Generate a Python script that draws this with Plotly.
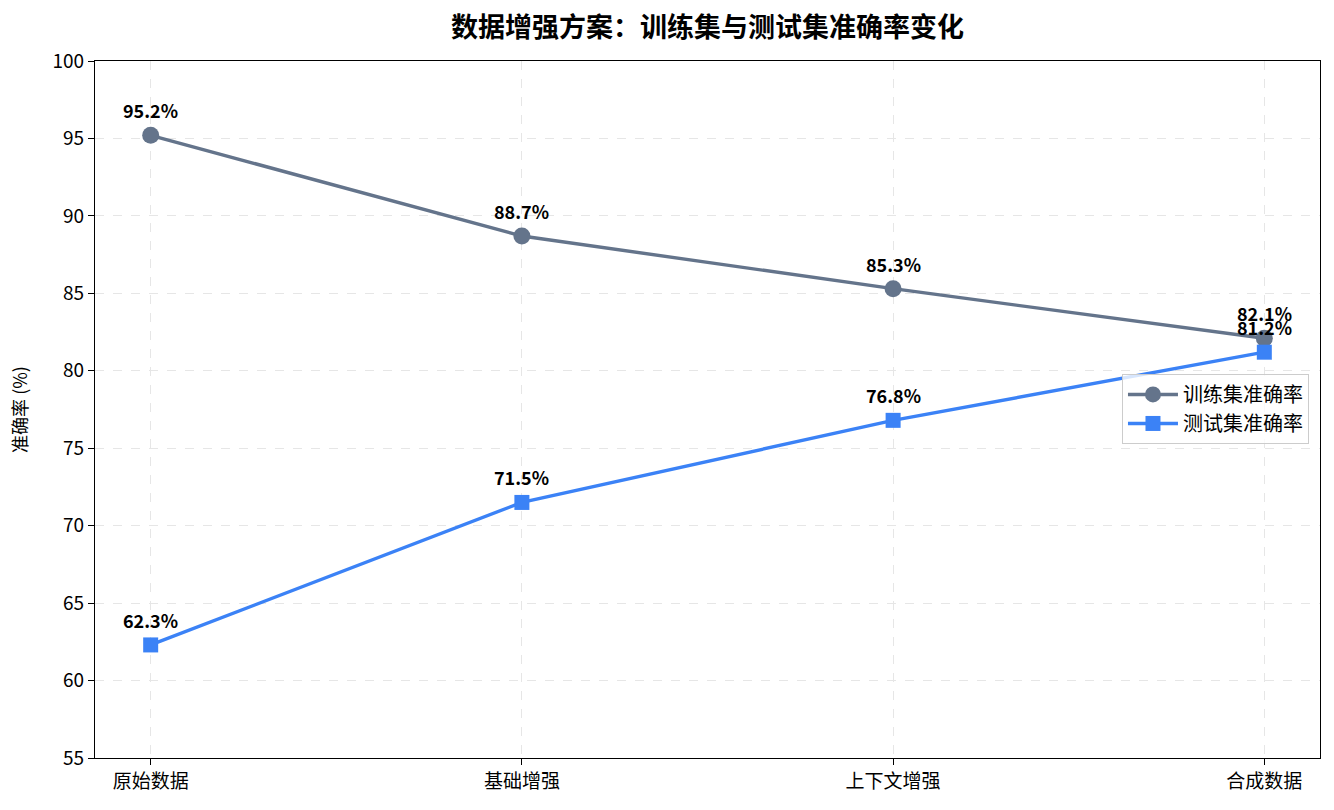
import plotly.graph_objects as go

categories = ["原始数据", "基础增强", "上下文增强", "合成数据"]
train_acc = [95.2, 88.7, 85.3, 82.1]
test_acc = [62.3, 71.5, 76.8, 81.2]
y_ticks = [55, 60, 65, 70, 75, 80, 85, 90, 95, 100]

FONT = "Noto Sans CJK SC"
train_color = "#64748b"
test_color = "#3b82f6"

fig = go.Figure()
fig.add_trace(go.Scatter(
    x=list(range(len(categories))), y=train_acc, mode="lines+markers",
    name="训练集准确率",
    line=dict(color=train_color, width=3.4),
    marker=dict(symbol="circle", size=17, color=train_color),
))
fig.add_trace(go.Scatter(
    x=list(range(len(categories))), y=test_acc, mode="lines+markers",
    name="测试集准确率",
    line=dict(color=test_color, width=3.4),
    marker=dict(symbol="square", size=15, color=test_color),
))

annotations = []
for series in (train_acc, test_acc):
    for i, v in enumerate(series):
        annotations.append(dict(
            x=i, y=v, xref="x", yref="y", text=f"<b>{v:.1f}%</b>",
            showarrow=False, yshift=25,
            font=dict(family=FONT, size=18, color="black"),
        ))

fig.update_layout(
    width=1334, height=810,
    margin=dict(l=95, r=14, t=61, b=52),
    paper_bgcolor="white", plot_bgcolor="white",
    font=dict(family=FONT, size=20, color="black"),
    title=dict(text="<b>数据增强方案：训练集与测试集准确率变化</b>",
               xref="paper", x=0.5, xanchor="center", y=0.966, yanchor="middle",
               font=dict(family=FONT, size=27, color="black")),
    showlegend=True,
    legend=dict(x=0.991, xanchor="right", y=0.551, yanchor="top",
                bgcolor="rgba(255,255,255,0.8)", bordercolor="#cccccc",
                borderwidth=1, itemwidth=50, tracegroupgap=0,
                font=dict(family=FONT, size=20)),
    annotations=annotations,
)
fig.update_xaxes(
    range=[-0.15, 3.15], tickmode="array",
    tickvals=list(range(len(categories))), ticktext=categories,
    showline=True, linecolor="black", linewidth=1.2, mirror=True,
    ticks="outside", ticklen=6, tickcolor="black",
    showgrid=True, gridcolor="#e6e6e6", griddash="dash", gridwidth=1,
    zeroline=False, tickfont=dict(size=19),
)
fig.update_yaxes(
    range=[55, 100], tickmode="array", tickvals=y_ticks,
    title=dict(text="准确率 (%)", font=dict(size=18), standoff=20),
    showline=True, linecolor="black", linewidth=1.2, mirror=True,
    ticks="outside", ticklen=6, tickcolor="black",
    showgrid=True, gridcolor="#e6e6e6", griddash="dash", gridwidth=1,
    zeroline=False, tickfont=dict(size=19),
)

fig.write_html("out.html")
